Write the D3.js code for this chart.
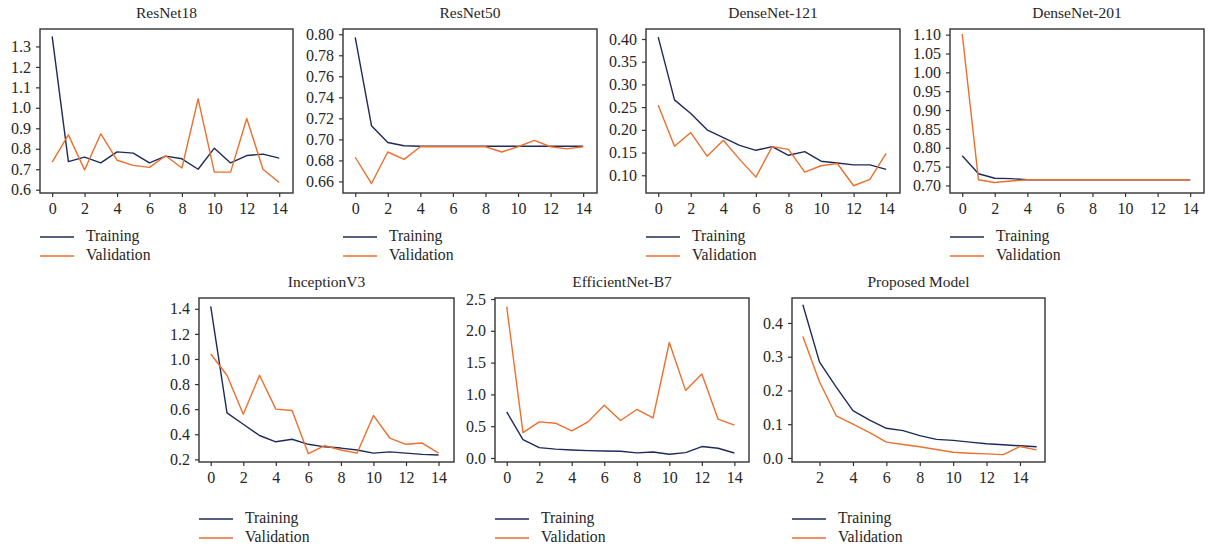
<!DOCTYPE html>
<html><head><meta charset="utf-8">
<script src="https://cdn.jsdelivr.net/npm/d3@7"></script>
<style>
body{margin:0;background:#fff;}
svg{display:block;font-family:"Liberation Serif","DejaVu Serif",serif;}
</style></head>
<body><svg id="c" width="1208" height="548"></svg>
<script>
const epochs = d3.range(0, 15);
const epochsProposed = d3.range(1, 16);

const titles = ["ResNet18","ResNet50","DenseNet-121","DenseNet-201","InceptionV3","EfficientNet-B7","Proposed Model"];
const seriesNames = ["Training","Validation"];

const resnet18Train = [1.349,0.737,0.759,0.731,0.785,0.779,0.731,0.764,0.751,0.700,0.803,0.731,0.767,0.774,0.754];
const resnet18Val   = [0.735,0.868,0.697,0.873,0.744,0.719,0.709,0.766,0.706,1.044,0.686,0.686,0.948,0.700,0.635];

const resnet50Train = [0.797,0.713,0.697,0.694,0.6935,0.6935,0.6935,0.6935,0.6935,0.6935,0.6935,0.6935,0.6935,0.6935,0.6935];
const resnet50Val   = [0.683,0.658,0.688,0.681,0.693,0.693,0.693,0.693,0.693,0.688,0.693,0.699,0.693,0.691,0.693];

const dense121Train = [0.404,0.266,0.236,0.200,0.183,0.166,0.155,0.163,0.144,0.152,0.131,0.127,0.123,0.123,0.113];
const dense121Val   = [0.254,0.164,0.194,0.142,0.177,0.135,0.096,0.163,0.157,0.107,0.121,0.126,0.077,0.091,0.148];

const dense201Train = [0.779,0.731,0.719,0.718,0.715,0.715,0.715,0.715,0.715,0.715,0.715,0.715,0.715,0.715,0.715];
const dense201Val   = [1.102,0.715,0.708,0.712,0.715,0.715,0.715,0.715,0.715,0.715,0.715,0.715,0.715,0.715,0.715];

const inceptionTrain = [1.42,0.57,0.48,0.39,0.34,0.36,0.32,0.30,0.29,0.275,0.25,0.26,0.25,0.24,0.235];
const inceptionVal   = [1.04,0.87,0.56,0.87,0.60,0.59,0.245,0.31,0.275,0.25,0.55,0.37,0.32,0.33,0.25];

const effTrain = [0.726,0.29,0.163,0.14,0.126,0.116,0.11,0.105,0.08,0.095,0.058,0.084,0.18,0.153,0.079];
const effVal   = [2.38,0.40,0.568,0.547,0.426,0.568,0.83,0.589,0.763,0.63,1.816,1.063,1.32,0.61,0.516];

const proposedTrain = [0.454,0.284,0.210,0.140,0.112,0.088,0.081,0.066,0.055,0.052,0.047,0.042,0.039,0.036,0.033];
const proposedVal   = [0.360,0.225,0.125,0.100,0.075,0.047,0.040,0.033,0.025,0.017,0.014,0.012,0.010,0.034,0.024];

const xTicks = [0,2,4,6,8,10,12,14];
const xTicksProposed = [2,4,6,8,10,12,14];
const yTicks18 = [0.6,0.7,0.8,0.9,1.0,1.1,1.2,1.3];
const yTicks50 = [0.66,0.68,0.70,0.72,0.74,0.76,0.78,0.80];
const yTicks121 = [0.10,0.15,0.20,0.25,0.30,0.35,0.40];
const yTicks201 = [0.70,0.75,0.80,0.85,0.90,0.95,1.00,1.05,1.10];
const yTicksInc = [0.2,0.4,0.6,0.8,1.0,1.2,1.4];
const yTicksEff = [0.0,0.5,1.0,1.5,2.0,2.5];
const yTicksProp = [0.0,0.1,0.2,0.3,0.4];

const colors = {train:"#1d2b5b", val:"#ec6f2d"};

const panels = [
  {title:titles[0], x:epochs, tr:resnet18Train, va:resnet18Val, xt:xTicks, yt:yTicks18, fmt:".1f", yd:[0.584,1.385], xd:[-0.75,14.85], box:[40,29,293,193], legY:[237,256]},
  {title:titles[1], x:epochs, tr:resnet50Train, va:resnet50Val, xt:xTicks, yt:yTicks50, fmt:".2f", yd:[0.649,0.805], xd:[-0.75,14.85], box:[343,29,597,193], legY:[237,256]},
  {title:titles[2], x:epochs, tr:dense121Train, va:dense121Val, xt:xTicks, yt:yTicks121, fmt:".2f", yd:[0.061,0.422], xd:[-0.75,14.85], box:[646,29,900,193], legY:[237,256]},
  {title:titles[3], x:epochs, tr:dense201Train, va:dense201Val, xt:xTicks, yt:yTicks201, fmt:".2f", yd:[0.680,1.115], xd:[-0.75,14.85], box:[950,29,1204,193], legY:[237,256]},
  {title:titles[4], x:epochs, tr:inceptionTrain, va:inceptionVal, xt:xTicks, yt:yTicksInc, fmt:".1f", yd:[0.179,1.486], xd:[-0.72,14.95], box:[199,298,454,462], legY:[519,538]},
  {title:titles[5], x:epochs, tr:effTrain, va:effVal, xt:xTicks, yt:yTicksEff, fmt:".1f", yd:[-0.063,2.516], xd:[-0.72,14.9], box:[495,298,749,462], legY:[519,538]},
  {title:titles[6], x:epochsProposed, tr:proposedTrain, va:proposedVal, xt:xTicksProposed, yt:yTicksProp, fmt:".1f", yd:[-0.012,0.474], xd:[0.35,15.5], box:[792,298,1045,462], legY:[519,538]}
];

const svg = d3.select("#c");
const textColor = "#262626";

panels.forEach(p => {
  const [x0,y0,x1,y1] = p.box;
  const g = svg.append("g");
  const xs = d3.scaleLinear().domain(p.xd).range([x0,x1]);
  const ys = d3.scaleLinear().domain(p.yd).range([y1,y0]);

  const line = arr => d3.line().x((d,i)=>xs(p.x[i])).y(d=>ys(d))(arr);
  g.append("path").attr("d", line(p.tr)).attr("fill","none").attr("stroke",colors.train).attr("stroke-width",1.4).attr("stroke-linejoin","round");
  g.append("path").attr("d", line(p.va)).attr("fill","none").attr("stroke",colors.val).attr("stroke-width",1.4).attr("stroke-linejoin","round");

  g.append("rect").attr("x",x0).attr("y",y0).attr("width",x1-x0).attr("height",y1-y0)
    .attr("fill","none").attr("stroke","#333").attr("stroke-width",1.4);

  const xa = g.append("g").attr("transform",`translate(0,${y1})`)
    .call(d3.axisBottom(xs).tickValues(p.xt).tickFormat(d3.format("d")).tickSize(4).tickPadding(6).tickSizeOuter(0));
  const ya = g.append("g").attr("transform",`translate(${x0},0)`)
    .call(d3.axisLeft(ys).tickValues(p.yt).tickFormat(d3.format(p.fmt)).tickSize(4).tickPadding(5).tickSizeOuter(0));
  [xa,ya].forEach(a=>{
    a.select(".domain").remove();
    a.selectAll("line").attr("stroke","#333").attr("stroke-width",1.2);
    a.selectAll("text").attr("fill",textColor).style("font-size","16px").style("font-family",'"Liberation Serif",serif');
  });

  g.append("text").attr("x",(x0+x1)/2).attr("y",y0-11).attr("text-anchor","middle")
    .attr("fill",textColor).style("font-size","15.5px").text(p.title);

  [[colors.train,seriesNames[0]],[colors.val,seriesNames[1]]].forEach((c,i)=>{
    const ly = p.legY[i];
    g.append("line").attr("x1",x0).attr("x2",x0+34).attr("y1",ly).attr("y2",ly)
      .attr("stroke",c[0]).attr("stroke-width",1.4);
    g.append("text").attr("x",x0+46).attr("y",ly+4).attr("fill",textColor)
      .style("font-size","15.7px").text(c[1]);
  });
});
</script></body></html>
